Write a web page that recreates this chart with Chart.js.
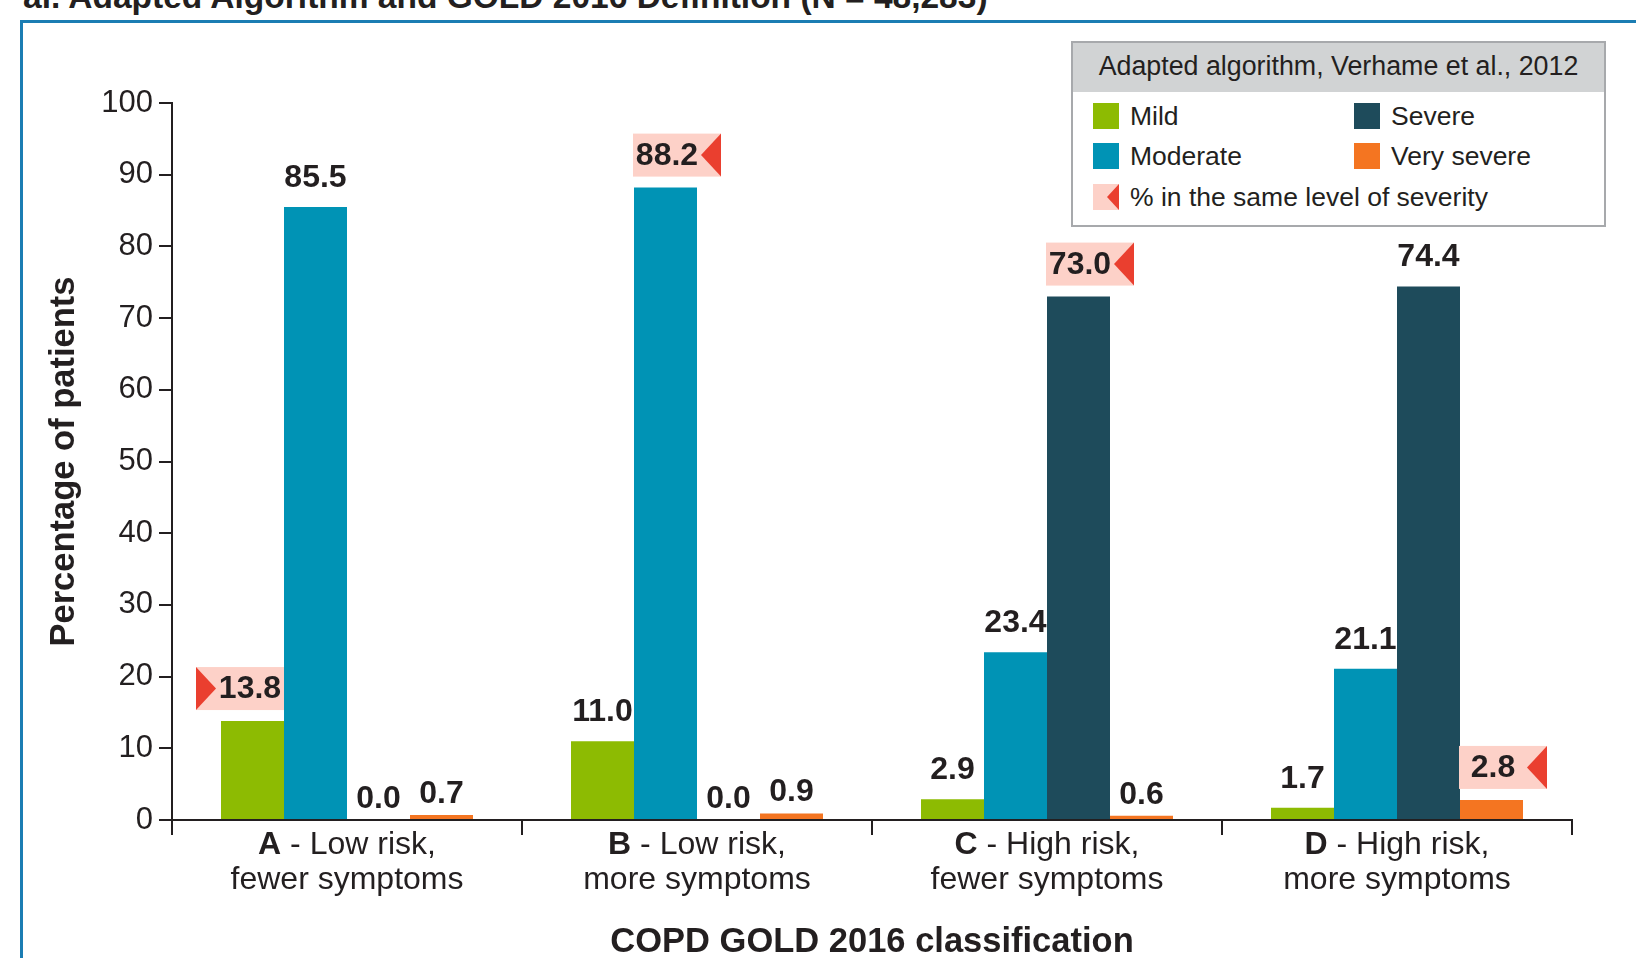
<!DOCTYPE html>
<html>
<head>
<meta charset="utf-8">
<script src="https://cdn.jsdelivr.net/npm/chart.js@4.4.1/dist/chart.umd.min.js"></script>
<style>
  html, body { margin: 0; padding: 0; background: #fff; }
  body { width: 1636px; height: 958px; position: relative; overflow: hidden; font-family: 'Liberation Sans', Arial, sans-serif; color: #231f20; }
  #heading { position: absolute; left: 23px; top: -20px; font-size: 33.5px; line-height: 34px; font-weight: bold; white-space: nowrap; }
  #frame { position: absolute; left: 20px; top: 20px; width: 1700px; height: 1000px; border: 3px solid #1b7db3; }
  #chart { position: absolute; left: 0; top: 0; }
  #legend { position: absolute; left: 1071px; top: 41px; width: 531px; height: 182px; border: 2px solid #a7a9ac; background: #fff; }
  #legend .head { height: 49px; line-height: 47px; background: #d1d3d4; text-align: center; font-size: 26.8px; }
  #legend .item { position: absolute; font-size: 26.5px; line-height: 27px; white-space: nowrap; }
  #legend .sw { position: absolute; left: 0; top: 0; width: 26px; height: 26px; }
  #legend .lbl { position: absolute; left: 37px; top: 0; }
  #legend .tri { position: absolute; right: 0; top: 0; width: 0; height: 0; border-top: 13px solid transparent; border-bottom: 13px solid transparent; border-right: 12px solid #ea3f2f; }
</style>
</head>
<body>
<div id="heading">al. Adapted Algorithm and GOLD 2016 Definition (N = 48,283)</div>
<div id="frame"></div>
<canvas id="chart" width="1636" height="958"></canvas>
<div id="legend"></div>
<script>
const categories = ['A', 'B', 'C', 'D'];
const riskLabels = ['Low risk,', 'Low risk,', 'High risk,', 'High risk,'];
const symptomLabels = ['fewer symptoms', 'more symptoms', 'fewer symptoms', 'more symptoms'];
const seriesNames = ['Mild', 'Moderate', 'Severe', 'Very severe'];
const mild = [13.8, 11.0, 2.9, 1.7];
const moderate = [85.5, 88.2, 23.4, 21.1];
const severe = [0.0, 0.0, 73.0, 74.4];
const verySevere = [0.7, 0.9, 0.6, 2.8];
// which series holds the "same level of severity" share in each category
const sameLevel = [0, 1, 2, 3];
const legendTitle = 'Adapted algorithm, Verhame et al., 2012';
const sameLevelLabel = '% in the same level of severity';

const colors = ['#8dbb02', '#0093b5', '#1e4b5b', '#f47521'];
const pink = '#fdd1c8';
const red = '#ea3f2f';
const ink = '#231f20';
const family = "'Liberation Sans', Arial, sans-serif";
const arrowSide = ['left', 'right', 'right', 'right'];

// legend
const legend = document.getElementById('legend');
legend.innerHTML = `<div class="head">${legendTitle}</div>`;
const legendPos = [[20, 60], [20, 100], [281, 60], [281, 100]];
seriesNames.forEach((name, i) => {
    const item = document.createElement('div');
    item.className = 'item';
    item.style.left = legendPos[i][0] + 'px';
    item.style.top = legendPos[i][1] + 'px';
    item.innerHTML = `<div class="sw" style="background:${colors[i]}"></div><span class="lbl">${name}</span>`;
    legend.appendChild(item);
});
const extra = document.createElement('div');
extra.className = 'item';
extra.style.left = '20px';
extra.style.top = '141px';
extra.innerHTML = `<div class="sw" style="background:${pink}"><div class="tri"></div></div><span class="lbl">${sameLevelLabel}</span>`;
legend.appendChild(extra);

const barLabels = {
    id: 'barLabels',
    afterDatasetsDraw(chart) {
        const ctx = chart.ctx;
        ctx.save();
        ctx.font = `bold 32px ${family}`;
        ctx.textAlign = 'center';
        ctx.textBaseline = 'middle';
        chart.data.datasets.forEach((ds, di) => {
            chart.getDatasetMeta(di).data.forEach((bar, i) => {
                const txt = ds.data[i].toFixed(1);
                const half = bar.width / 2;
                if (sameLevel[i] === di) {
                    const boxW = 88, boxH = 43, tri = 20;
                    const left = arrowSide[i] === 'left' ? bar.x + half - boxW : bar.x - half - 1;
                    const top = bar.y - 11 - boxH;
                    ctx.fillStyle = pink;
                    ctx.fillRect(left, top, boxW, boxH);
                    ctx.fillStyle = red;
                    ctx.beginPath();
                    let tx;
                    if (arrowSide[i] === 'left') {
                        ctx.moveTo(left, top);
                        ctx.lineTo(left + tri, top + boxH / 2);
                        ctx.lineTo(left, top + boxH);
                        tx = left + tri + (boxW - tri) / 2;
                    } else {
                        ctx.moveTo(left + boxW, top);
                        ctx.lineTo(left + boxW - tri, top + boxH / 2);
                        ctx.lineTo(left + boxW, top + boxH);
                        tx = left + (boxW - tri) / 2;
                    }
                    ctx.fill();
                    ctx.fillStyle = ink;
                    ctx.fillText(txt, tx, top + boxH / 2 + 1);
                } else {
                    // tiny bars carry their label a little lower
                    const lift = ds.data[i] < 1 ? 21 : 29;
                    ctx.fillStyle = ink;
                    ctx.fillText(txt, bar.x, bar.y - lift);
                }
            });
        });
        ctx.restore();
    },
    afterDraw(chart) {
        const ctx = chart.ctx;
        const xs = chart.scales.x;
        const bottom = chart.chartArea.bottom;
        ctx.save();
        ctx.fillStyle = ink;
        ctx.textBaseline = 'middle';
        categories.forEach((c, i) => {
            const x = xs.getPixelForValue(i);
            ctx.font = `bold 32px ${family}`;
            const wA = ctx.measureText(c).width;
            ctx.font = `32px ${family}`;
            const rest = ' - ' + riskLabels[i];
            const wR = ctx.measureText(rest).width;
            const start = x - (wA + wR) / 2;
            ctx.textAlign = 'left';
            ctx.font = `bold 32px ${family}`;
            ctx.fillText(c, start, bottom + 25);
            ctx.font = `32px ${family}`;
            ctx.fillText(rest, start + wA, bottom + 25);
            ctx.textAlign = 'center';
            ctx.fillText(symptomLabels[i], x, bottom + 60);
        });
        ctx.restore();
    }
};

new Chart(document.getElementById('chart'), {
    type: 'bar',
    data: {
        labels: categories,
        datasets: [mild, moderate, severe, verySevere].map((values, i) => ({
            label: seriesNames[i],
            data: values,
            backgroundColor: colors[i],
            borderWidth: 0,
            categoryPercentage: 0.72,
            barPercentage: 1.0
        }))
    },
    options: {
        responsive: false,
        animation: false,
        layout: { padding: { left: 44, top: 103, right: 64, bottom: 0 } },
        plugins: { legend: { display: false }, tooltip: { enabled: false } },
        scales: {
            x: {
                grid: { drawOnChartArea: false, tickLength: 15, color: ink, lineWidth: 2, offset: true },
                border: { color: ink, width: 2 },
                ticks: { display: false },
                title: { display: true, text: 'COPD GOLD 2016 classification', color: ink, padding: 0,
                         font: { size: 34.5, weight: 'bold', family: family, lineHeight: 0.9 } },
                afterFit(s) { s.height = 138; }
            },
            y: {
                min: 0,
                max: 100,
                ticks: { stepSize: 10, color: ink, padding: 6, font: { size: 31, family: family } },
                grid: { drawOnChartArea: false, tickLength: 13, color: ink, lineWidth: 2 },
                border: { color: ink, width: 2 },
                title: { display: true, text: 'Percentage of patients', color: ink, padding: 0,
                         font: { size: 34.5, weight: 'bold', family: family } },
                afterFit(s) { s.width = 128; }
            }
        }
    },
    plugins: [barLabels]
});
</script>
</body>
</html>
